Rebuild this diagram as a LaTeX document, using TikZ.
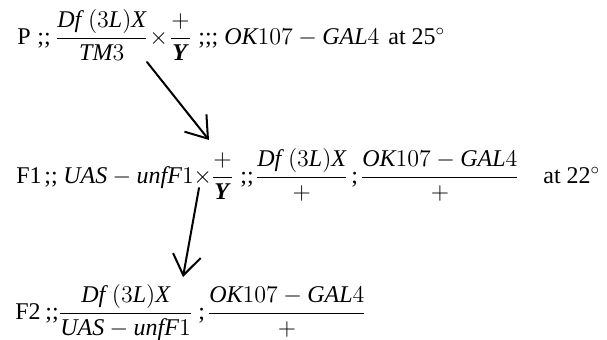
\documentclass[tikz,border=0pt]{standalone}
\usepackage{fontspec}
\setmainfont{Liberation Serif}
\usetikzlibrary{arrows.meta}
\setlength{\nulldelimiterspace}{0pt}
% italic names and the bold italic Y
\newcommand{\iv}[1]{\textit{#1}}
\newcommand{\bY}{\textbf{\textit{Y}}}
\newcommand{\Dfx}{\iv{Df}\;(3\iv{L})\iv{X}}
\newcommand{\okgal}{\iv{OK}107-\iv{GAL}4}
\newcommand{\uas}{\iv{UAS}-\iv{unfF}1}
\begin{document}
\begin{tikzpicture}[x=0.5pt,y=-0.5pt,
  piece/.style={anchor=base west, inner sep=0pt,
    font=\fontsize{12}{14}\selectfont},
  link/.style={line width=1pt, line cap=round, -{Straight Barb[length=10pt,width=14pt]}}]
\useasboundingbox (0,0) rectangle (607,339);
% parental cross
\node[piece] (p0) at (17,44) {P};
\node[piece] (p1) at (37,44) {;;};
\node[piece] (p2) at (57,44) {$\displaystyle\frac{\Dfx}{\iv{TM}3}$};
\node[piece] (p3) at (149,44) {$\times$};
\node[piece] (p4) at (171,44) {$\displaystyle\frac{+}{\bY}$};
\node[piece] (p5) at (198,44) {;;;};
\node[piece] (p6) at (224,44) {$\okgal$};
\node[piece] (p7) at (388,44) {at 25$^\circ$};
% first generation
\node[piece] (f0) at (16,183) {F1};
\node[piece] (f1) at (44,183) {;;};
\node[piece] (f2) at (63,183) {$\uas$};
\node[piece] (f3) at (193,183) {$\times$};
\node[piece] (f4) at (213,183) {$\displaystyle\frac{+}{\bY}$};
\node[piece] (f5) at (240,183) {;;};
\node[piece] (f6) at (257,183) {$\displaystyle\frac{\Dfx}{+}$};
\node[piece] (f7) at (351,183) {;};
\node[piece] (f8) at (362,183) {$\displaystyle\frac{\okgal}{+}$};
\node[piece] (f9) at (543,183) {at 22$^\circ$};
% second generation
\node[piece] (g0) at (15,319) {F2};
\node[piece] (g1) at (45,319) {;;};
\node[piece] (g2) at (60,319) {$\displaystyle\frac{\Dfx}{\uas}$};
\node[piece] (g3) at (198,319) {;};
\node[piece] (g4) at (209,319) {$\displaystyle\frac{\okgal}{+}$};
% crosses
\coordinate (a1) at (147,62);
\coordinate (b1) at (209,140);
\coordinate (a2) at (199,188);
\coordinate (b2) at (183,277);
\draw[link] (a1) -- (b1);
\draw[link] (a2) -- (b2);
\end{tikzpicture}
\end{document}
